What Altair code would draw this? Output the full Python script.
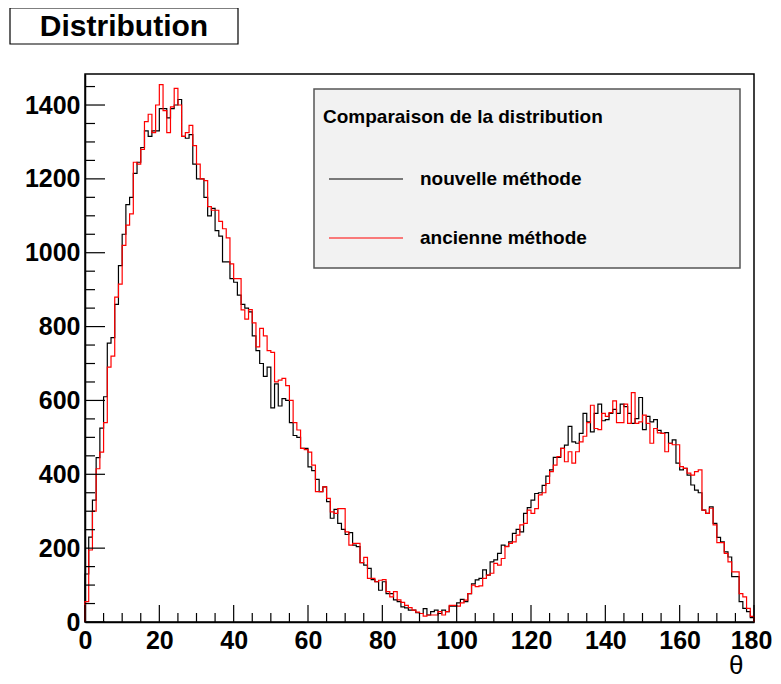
import altair as alt
import pandas as pd

# Histogram contents, 1-degree bins from 0 to 180
nouvelle = [
    130, 230, 330, 445, 525, 610, 755, 770, 860, 965,
    1050, 1130, 1150, 1215, 1245, 1285, 1330, 1315, 1330, 1330,
    1390, 1390, 1365, 1390, 1400, 1415, 1315, 1310, 1320, 1240,
    1200, 1200, 1150, 1100, 1120, 1060, 1045, 975, 975, 930,
    920, 885, 860, 850, 840, 775, 735, 700, 665, 690,
    580, 645, 585, 605, 600, 540, 505, 500, 470, 470,
    420, 410, 386, 353, 366, 326, 281, 305, 267, 251,
    237, 242, 208, 204, 161, 154, 145, 115, 109, 86,
    109, 77, 77, 60, 55, 41, 38, 32, 32, 25,
    23, 36, 19, 28, 32, 23, 32, 28, 43, 43,
    52, 61, 55, 77, 103, 114, 118, 141, 127, 163,
    168, 186, 208, 205, 217, 240, 251, 244, 294, 310,
    330, 348, 350, 370, 395, 412, 446, 446, 470, 479,
    530, 488, 484, 511, 565, 542, 515, 565, 590, 545,
    548, 565, 576, 565, 590, 583, 565, 538, 551, 608,
    521, 557, 542, 548, 519, 511, 513, 484, 493, 430,
    412, 416, 398, 371, 357, 350, 303, 294, 312, 267,
    229, 217, 190, 176, 123, 123, 55, 37, 28, 12,
]
ancienne = [
    55, 195, 300, 415, 460, 540, 690, 720, 880, 915,
    1020, 1075, 1105, 1245, 1240, 1280, 1355, 1375, 1325, 1400,
    1455, 1385, 1325, 1395, 1445, 1400, 1315, 1325, 1345, 1290,
    1240, 1200, 1195, 1125, 1115, 1115, 1085, 1065, 1040, 970,
    930, 930, 845, 820, 846, 810, 745, 795, 775, 735,
    730, 650, 655, 660, 640, 600, 540, 520, 470, 467,
    460, 425, 353, 353, 366, 335, 298, 294, 307, 307,
    244, 208, 213, 213, 161, 175, 118, 118, 109, 113,
    115, 82, 68, 82, 60, 53, 45, 39, 32, 27,
    23, 16, 19, 19, 19, 28, 19, 28, 45, 45,
    43, 52, 59, 77, 100, 96, 98, 118, 127, 132,
    159, 154, 172, 204, 213, 217, 235, 263, 267, 303,
    294, 307, 344, 350, 375, 407, 425, 448, 470, 434,
    461, 430, 461, 488, 503, 540, 587, 524, 521, 565,
    557, 567, 599, 540, 540, 590, 538, 621, 538, 542,
    560, 538, 484, 524, 512, 511, 461, 484, 480, 480,
    421, 416, 403, 398, 407, 412, 303, 294, 308, 263,
    215, 215, 186, 163, 136, 136, 77, 68, 37, 15,
]
series_names = ["nouvelle méthode", "ancienne méthode"]
series_colors = ["#000000", "#ff0000"]

x_labels = list(range(0, 181, 20))
x_minor = [v for v in range(0, 181, 5) if v % 20]
y_labels = list(range(0, 1401, 200))
y_minor = [v for v in range(0, 1451, 50) if v % 200]

W, H = 669, 548
X_MAX, Y_MAX = 180, 1484
FONT = "Liberation Sans"


def hist_frame(values, name):
    rows = [{"theta": 0, "count": 0, "k": 0}]
    for i, v in enumerate(values):
        rows.append({"theta": i, "count": v, "k": i + 1})
    n = len(values)
    rows.append({"theta": n, "count": values[-1], "k": n + 1})
    rows.append({"theta": n, "count": 0, "k": n + 2})
    df = pd.DataFrame(rows)
    df["serie"] = name
    return df


xs = alt.Scale(domain=[0, X_MAX], nice=False, zero=False)
ys = alt.Scale(domain=[0, Y_MAX], nice=False)
cs = alt.Scale(domain=series_names, range=series_colors)

xaxis = alt.Axis(values=x_labels, ticks=False, grid=False, domainColor="black",
                 domainWidth=1.5, labelFont=FONT, labelFontSize=25,
                 labelFontWeight="bold", labelColor="black", labelPadding=6,
                 labelFlush=False, labelOverlap=False, format="d",
                 labelOffset={"expr": "datum.value == 180 ? -3 : 0"},
                 title="θ", titleFont=FONT, titleFontSize=26,
                 titleFontWeight="normal", titleColor="black",
                 titleAlign="right", titleX=658, titleY=51,
                 titleBaseline="alphabetic")
yaxis = alt.Axis(values=y_labels, ticks=False, grid=False, domainColor="black",
                 domainWidth=1.5, labelFont=FONT, labelFontSize=25,
                 labelFontWeight="bold", labelColor="black", labelPadding=5,
                 labelOverlap=False, format="d", title=None)


def line_layer(values, name):
    return alt.Chart(hist_frame(values, name)).mark_line(
        interpolate="step-after", strokeWidth=1.2
    ).encode(
        x=alt.X("theta:Q", scale=xs, axis=xaxis),
        y=alt.Y("count:Q", scale=ys, axis=yaxis),
        color=alt.Color("serie:N", scale=cs, legend=None),
        order="k:Q",
    )


black_line = line_layer(nouvelle, series_names[0])
red_line = line_layer(ancienne, series_names[1])


# inward ticks (ROOT style)
def xticks(vals, length):
    return alt.Chart(pd.DataFrame({"v": vals})).mark_rule(color="black", strokeWidth=1.2).encode(
        x=alt.X("v:Q", scale=xs, axis=xaxis), y=alt.value(H), y2=alt.value(H - length))


def yticks(vals, length):
    return alt.Chart(pd.DataFrame({"v": vals})).mark_rule(color="black", strokeWidth=1.2).encode(
        y=alt.Y("v:Q", scale=ys, axis=yaxis), x=alt.value(0), x2=alt.value(length))


xmaj = xticks(x_labels, 17)
xmin = xticks(x_minor, 9)
ymaj = yticks(y_labels, 20)
ymin = yticks(y_minor, 10)

# legend box
one = pd.DataFrame({"a": [0]})
leg_box = alt.Chart(one).mark_rect(fill="#f2f2f2", stroke="#555555", strokeWidth=1.5).encode(
    x=alt.value(229), x2=alt.value(655), y=alt.value(15), y2=alt.value(194))
leg_title = alt.Chart(one).mark_text(
    text="Comparaison de la distribution", font=FONT, fontSize=19, fontWeight="bold",
    align="left", baseline="middle", color="black").encode(x=alt.value(238), y=alt.value(43))


def legend_entry(idx, ypos):
    line = alt.Chart(one).mark_rule(strokeWidth=1.2, color=series_colors[idx]).encode(
        x=alt.value(244), x2=alt.value(318), y=alt.value(ypos))
    txt = alt.Chart(one).mark_text(
        text=series_names[idx], font=FONT, fontSize=19, fontWeight="bold",
        align="left", baseline="middle", color="black").encode(
        x=alt.value(335), y=alt.value(ypos))
    return [line, txt]


leg_entries = legend_entry(0, 105) + legend_entry(1, 164)

# title box
title_box = alt.Chart(one).mark_rect(fill="white", stroke="black", strokeWidth=1.2).encode(
    x=alt.value(-75), x2=alt.value(153), y=alt.value(-66), y2=alt.value(-30))
title_text = alt.Chart(one).mark_text(
    text="Distribution", font=FONT, fontSize=30, fontWeight="bold",
    align="center", baseline="middle", color="black").encode(x=alt.value(39), y=alt.value(-47))

chart = alt.layer(
    black_line, red_line, xmaj, xmin, ymaj, ymin,
    leg_box, leg_title, *leg_entries, title_box, title_text,
).properties(
    width=W, height=H,
    autosize=alt.AutoSizeParams(type="none"),
    padding={"left": 77, "top": 66, "right": 19, "bottom": 54},
    background="white",
).configure_view(stroke="black", strokeWidth=1.5)

chart.save("out.html", embed_options={"renderer": "svg", "actions": False})
